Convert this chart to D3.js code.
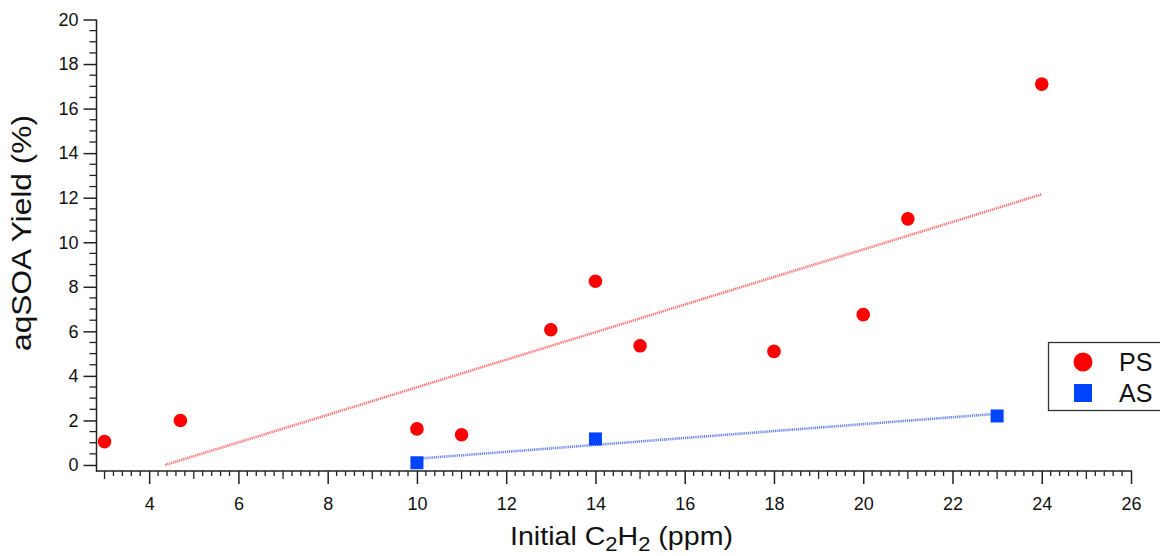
<!DOCTYPE html>
<html><head><meta charset="utf-8">
<script src="https://cdn.jsdelivr.net/npm/d3@7"></script>
<style>body{margin:0;background:#fff}svg{display:block}text{font-family:"Liberation Sans",Arial,sans-serif;fill:#111}</style>
</head><body>
<svg id="c" width="1160" height="556"></svg>
<script>
// Data
const psX = [3, 4.7, 10, 11, 13, 14, 15, 18, 20, 21, 24];
const psY = [1.05, 2.0, 1.62, 1.36, 6.07, 8.25, 5.35, 5.1, 6.75, 11.05, 17.1];
const asX = [10, 14, 23];
const asY = [0.1, 1.17, 2.2];
const fitPSX = [4.36, 24];
const fitPSY = [0, 12.15];
const fitASX = [10, 23];
const fitASY = [0.28, 2.3];
const xTicks = [4, 6, 8, 10, 12, 14, 16, 18, 20, 22, 24, 26];
const yTicks = [0, 2, 4, 6, 8, 10, 12, 14, 16, 18, 20];
const seriesNames = ["PS", "AS"];

const svg = d3.select("#c");
const x = d3.scaleLinear().domain([2.82, 26]).range([96.5, 1131]);
const y = d3.scaleLinear().domain([-0.27, 20]).range([471, 19.5]);

// minor ticks
const xMinor = d3.range(3, 26.001, 0.2).map(v => +v.toFixed(1)).filter(v => Math.abs(v % 2) > 1e-6);
const yMinor = d3.range(0, 20.001, 0.5).filter(v => v % 2 !== 0);

const gx = svg.append("g").attr("transform", "translate(0,471)");
gx.append("line").attr("x1", 96).attr("x2", x(26) + 1).attr("stroke", "#222").attr("stroke-width", 1.5);
gx.selectAll(".mn").data(xMinor).join("line")
  .attr("x1", d => x(d)).attr("x2", d => x(d)).attr("y1", 0)
  .attr("y2", d => Math.abs(d - Math.round(d)) < 1e-6 ? 8 : 5)
  .attr("stroke", "#222").attr("stroke-width", 1.3);
const xAxis = d3.axisBottom(x).tickValues(xTicks).tickSize(13).tickPadding(13).tickFormat(d3.format("d"));
const gxa = svg.append("g").attr("transform", "translate(0,471)").call(xAxis);
gxa.select(".domain").remove();
gxa.selectAll(".tick line").attr("stroke", "#222").attr("stroke-width", 1.5);
gxa.selectAll(".tick text").attr("font-size", 18).attr("fill", "#111").attr("font-family", '"Liberation Sans",Arial,sans-serif');

const gy = svg.append("g").attr("transform", "translate(96.5,0)");
gy.append("line").attr("y1", y(20)).attr("y2", 471.7).attr("stroke", "#222").attr("stroke-width", 1.5);
gy.selectAll(".mn").data(yMinor).join("line")
  .attr("y1", d => y(d)).attr("y2", d => y(d)).attr("x1", 0).attr("x2", -7)
  .attr("stroke", "#222").attr("stroke-width", 1.3);
const yAxis = d3.axisLeft(y).tickValues(yTicks).tickSize(13).tickPadding(5).tickFormat(d3.format("d"));
const gya = svg.append("g").attr("transform", "translate(96.5,0)").call(yAxis);
gya.select(".domain").remove();
gya.selectAll(".tick line").attr("stroke", "#222").attr("stroke-width", 1.5);
gya.selectAll(".tick text").attr("font-size", 18).attr("fill", "#111").attr("font-family", '"Liberation Sans",Arial,sans-serif');

// fit lines
const line = d3.line().x(d => x(d[0])).y(d => y(d[1]));
svg.append("path").datum(fitPSX.map((v, i) => [v, fitPSY[i]])).attr("d", line)
  .attr("fill", "none").attr("stroke", "#ff3b3b").attr("stroke-opacity", 0.75)
  .attr("stroke-width", 2.6).attr("stroke-dasharray", "1.2,0.9");
svg.append("path").datum(fitASX.map((v, i) => [v, fitASY[i]])).attr("d", line)
  .attr("fill", "none").attr("stroke", "#3355e0").attr("stroke-opacity", 0.75)
  .attr("stroke-width", 2.6).attr("stroke-dasharray", "1.2,0.9");

// points
svg.selectAll(".ps").data(psX.map((v, i) => [v, psY[i]])).join("circle")
  .attr("cx", d => x(d[0])).attr("cy", d => y(d[1])).attr("r", 6.8).attr("fill", "#ff0000");
svg.selectAll(".as").data(asX.map((v, i) => [v, asY[i]])).join("rect")
  .attr("x", d => x(d[0]) - 6.5).attr("y", d => y(d[1]) - 6.5).attr("width", 13).attr("height", 13).attr("fill", "#0044ff");

// axis titles (stretched along baseline to match reference widths)
const xg = svg.append("g");
const xt = xg.append("text").attr("x", 0).attr("y", 0).attr("text-anchor", "middle").attr("font-size", 26);
xt.append("tspan").text("Initial C");
xt.append("tspan").text("2").attr("font-size", 20).attr("dy", 6);
xt.append("tspan").text("H").attr("dy", -6);
xt.append("tspan").text("2").attr("font-size", 20).attr("dy", 6);
xt.append("tspan").text(" (ppm)").attr("dy", -6);
const xw = xt.node().getBBox().width;
xg.attr("transform", `translate(621.5,545) scale(${223 / xw},1)`);

const yg = svg.append("g");
const yt = yg.append("text").attr("text-anchor", "middle").attr("font-size", 27).text("aqSOA Yield (%)");
const yw = yt.node().getBBox().width;
yg.attr("transform", `translate(31,233) rotate(-90) scale(${236 / yw},1)`);

// legend
const lg = svg.append("g");
lg.append("rect").attr("x", 1048.5).attr("y", 342.5).attr("width", 130).attr("height", 68)
  .attr("fill", "#fff").attr("stroke", "#333").attr("stroke-width", 1.3);
lg.append("circle").attr("cx", 1083).attr("cy", 362).attr("r", 9.5).attr("fill", "#ff0000");
lg.append("rect").attr("x", 1074).attr("y", 384).attr("width", 18).attr("height", 18).attr("fill", "#0044ff");
lg.selectAll(".lt").data(seriesNames).join("text")
  .attr("x", 1119).attr("y", (d, i) => 371 + i * 31).attr("font-size", 25).text(d => d);
</script>
</body></html>
